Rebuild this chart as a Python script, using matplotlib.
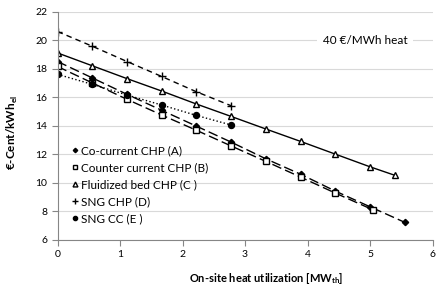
import matplotlib.pyplot as plt

plt.rcParams['font.family'] = ['Lato', 'DejaVu Sans']
plt.rcParams['mathtext.fontset'] = 'custom'
plt.rcParams['mathtext.rm'] = 'Lato'
plt.rcParams['mathtext.bf'] = 'Lato:bold'

# heat utilization [MW_th]
x_steps = [0, 0.556, 1.111, 1.667, 2.222, 2.778, 3.333, 3.889, 4.444, 5.0]

# Co-current CHP (A)
x_a = x_steps + [5.56]
y_a = [18.5, 17.35, 16.2, 15.08, 13.97, 12.85, 11.68, 10.6, 9.42, 8.32, 7.22]
# Counter current CHP (B)
x_b = x_steps[:9] + [5.04]
y_b = [18.15, 17.0, 15.85, 14.75, 13.68, 12.58, 11.5, 10.4, 9.28, 8.12]
# Fluidized bed CHP (C)
x_c = x_steps + [5.4]
y_c = [19.1, 18.2, 17.3, 16.43, 15.52, 14.65, 13.77, 12.9, 12.01, 11.12, 10.52]
# SNG CHP (D)
x_d = x_steps[:6]
y_d = [20.6, 19.57, 18.5, 17.45, 16.38, 15.4]
# SNG CC (E)
x_e = x_steps[:6]
y_e = [17.6, 16.9, 16.15, 15.45, 14.72, 14.05]

fig = plt.figure(figsize=(4.36, 2.89), dpi=100)
ax = fig.add_axes([0.132, 0.17, 0.86, 0.79])

ax.plot(x_a, y_a, color='black', lw=1, dashes=(7, 3), marker='D', ms=3.2,
        label='Co-current CHP (A)')
ax.plot(x_b, y_b, color='black', lw=1, dashes=(7, 3), marker='s', ms=4.8,
        mfc='white', label='Counter current CHP (B)')
ax.plot(x_c, y_c, color='black', lw=1, ls='-', marker='^', ms=5,
        mfc='white', label='Fluidized bed CHP (C )')
ax.plot(x_d, y_d, color='black', lw=1, dashes=(4, 3), marker='+', ms=5.5,
        label='SNG CHP (D)')
ax.plot(x_e, y_e, color='black', lw=1, ls=':', marker='o', ms=4.3,
        label='SNG CC (E )')

ax.set_xlim(0, 6)
ax.set_ylim(6, 22)
ax.set_xticks(range(0, 7))
ax.set_yticks(range(6, 23, 2))
ax.grid(axis='y', color='#d9d9d9', lw=0.8)
ax.set_axisbelow(True)
for s in ['top', 'right']:
    ax.spines[s].set_visible(False)
for s in ['left', 'bottom']:
    ax.spines[s].set_color('#868686')
    ax.spines[s].set_linewidth(0.8)
ax.tick_params(colors='#868686', labelcolor='black', labelsize=7.5, length=4)

ax.set_xlabel('On-site heat utilization [MW$_\\mathbf{th}$]', fontsize=8,
              fontweight='bold', va='center')
ax.xaxis.set_label_coords(0.556, -0.171)
ax.set_ylabel('€-Cent/kWh$_\\mathbf{el}$', fontsize=8.5, fontweight='bold',
              va='center')
ax.yaxis.set_label_coords(-0.121, 0.47)

ax.text(4.92, 20, '40 €/MWh heat', fontsize=8.5, ha='center', va='center',
        bbox=dict(facecolor='white', edgecolor='none', pad=4))

leg = ax.legend(loc='upper left', bbox_to_anchor=(0.035, 0.435), frameon=False,
                fontsize=8.5, handlelength=0, handletextpad=0.5,
                labelspacing=0.5, borderaxespad=0, markerscale=0.7)

fig.savefig('out.png', dpi=100)
